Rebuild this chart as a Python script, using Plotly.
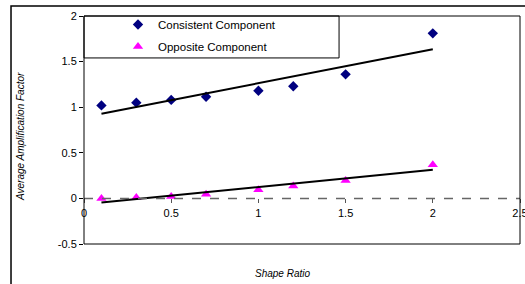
import numpy as np
import plotly.graph_objects as go

shape_ratio = [0.1, 0.3, 0.5, 0.7, 1.0, 1.2, 1.5, 2.0]
consistent = [1.02, 1.05, 1.08, 1.115, 1.18, 1.23, 1.36, 1.81]
opposite = [0.0, 0.01, 0.02, 0.045, 0.095, 0.135, 0.195, 0.37]
x_ticks = [0, 0.5, 1, 1.5, 2, 2.5]
x_ticklabels = ["0", "0.5", "1", "1.5", "2", "2.5"]
y_ticks = [-0.5, 0, 0.5, 1, 1.5, 2]
y_ticklabels = ["-0.5", "0", "0.5", "1", "1.5", "2"]

FONT = "Liberation Sans, Arial, sans-serif"

def trend(xs, ys):
    m, b = np.polyfit(xs, ys, 1)
    xe = [min(xs), max(xs)]
    return xe, [m * v + b for v in xe]

fig = go.Figure()
fig.add_trace(go.Scatter(x=shape_ratio, y=consistent, mode="markers",
                         name="Consistent Component", legendgroup="a",
                         marker=dict(symbol="diamond", size=8, color="#000080")))
fig.add_trace(go.Scatter(x=shape_ratio, y=opposite, mode="markers",
                         name="Opposite Component", legendgroup="b",
                         marker=dict(symbol="triangle-up", size=9, color="#FF00FF")))
for ys in (consistent, opposite):
    tx, ty = trend(shape_ratio, ys)
    fig.add_trace(go.Scatter(x=tx, y=ty, mode="lines", showlegend=False,
                             line=dict(color="black", width=2), hoverinfo="skip"))

fig.update_layout(
    width=525, height=284,
    margin=dict(l=84, r=5, t=16, b=40),
    paper_bgcolor="white", plot_bgcolor="white",
    font=dict(family=FONT, size=11, color="black"),
    showlegend=True,
    legend=dict(x=0.078, y=1.026, xanchor="left", yanchor="top",
                bgcolor="rgba(0,0,0,0)", borderwidth=0,
                tracegroupgap=3, font=dict(size=11.5, family=FONT)),
    xaxis=dict(range=[0, 2.5], tickvals=x_ticks, ticktext=x_ticklabels,
               anchor="free", position=0.2, showline=False, showgrid=False,
               zeroline=False, ticks="outside", ticklen=4, tickcolor="#555",
               automargin=False, ticklabeloverflow="allow",
               tickfont=dict(size=11, family=FONT)),
    yaxis=dict(range=[-0.5, 2], tickvals=y_ticks, ticktext=y_ticklabels,
               showline=False, showgrid=False, zeroline=False,
               ticks="outside", ticklen=4, tickcolor="black",
               automargin=False, tickfont=dict(size=11, family=FONT)),
    shapes=[
        dict(type="line", xref="paper", yref="y", x0=0, x1=1, y0=0, y1=0,
             line=dict(color="#666", width=1.5, dash="dash")),
        dict(type="rect", xref="paper", yref="paper", x0=0, y0=0, x1=1, y1=1,
             line=dict(color="black", width=1)),
        dict(type="rect", xref="paper", yref="paper", x0=0, y0=0.816, x1=0.585, y1=1,
             line=dict(color="black", width=1)),
        dict(type="rect", xref="paper", yref="paper", x0=-0.1674, y0=-0.6, x1=1.5, y1=1.0439,
             line=dict(color="black", width=1.5)),
    ],
    annotations=[
        dict(text="<i>Average Amplification Factor</i>", xref="paper", yref="paper",
             x=-0.1445, y=0.474, xanchor="center", yanchor="middle",
             textangle=-90, showarrow=False,
             font=dict(size=10, family=FONT)),
        dict(text="<i>Shape Ratio</i>", xref="paper", yref="paper",
             x=0.456, y=-0.129, xanchor="center", yanchor="middle",
             showarrow=False, font=dict(size=10, family=FONT)),
    ],
)

fig.write_html("out.html", config={"displayModeBar": False},
               post_script="document.body.style.margin='0';document.body.style.overflow='hidden';")
